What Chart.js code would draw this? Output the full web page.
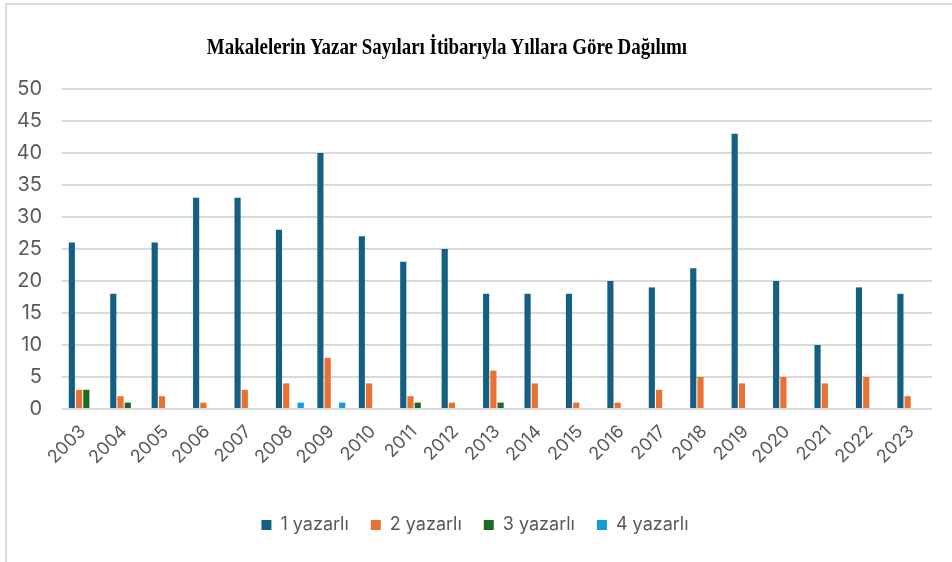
<!DOCTYPE html>
<html>
<head>
<meta charset="utf-8">
<script src="https://cdn.jsdelivr.net/npm/chart.js@4.4.1/dist/chart.umd.min.js"></script>
<style>
  html, body { margin: 0; padding: 0; background: #fff; }
  #wrap { position: relative; width: 952px; height: 562px; overflow: hidden; }
  #frame { position: absolute; left: 5px; top: 3px; right: -10px; bottom: -10px;
           border-left: 2px solid #dcdcdc; border-top: 2px solid #dcdcdc; }
  #title { position: absolute; left: 447px; top: 33px; white-space: nowrap;
           font-family: "Liberation Serif", "Times New Roman", serif; font-weight: bold;
           font-size: 24px; color: #000; transform: translateX(-50%) scaleX(0.79); }
  #chart { position: absolute; left: 0; top: 0; }
</style>
</head>
<body>
<div id="wrap">
  <div id="frame"></div>
  <canvas id="chart" width="952" height="562"></canvas>
  <div id="title">Makalelerin Yazar Sayıları İtibarıyla Yıllara Göre Dağılımı</div>
</div>
<script>
// Chart Data
const years = ['2003','2004','2005','2006','2007','2008','2009','2010','2011','2012','2013',
               '2014','2015','2016','2017','2018','2019','2020','2021','2022','2023'];
const yazar1 = [26, 18, 26, 33, 33, 28, 40, 27, 23, 25, 18, 18, 18, 20, 19, 22, 43, 20, 10, 19, 18];
const yazar2 = [3, 2, 2, 1, 3, 4, 8, 4, 2, 1, 6, 4, 1, 1, 3, 5, 4, 5, 4, 5, 2];
const yazar3 = [3, 1, 0, 0, 0, 0, 0, 0, 1, 0, 1, 0, 0, 0, 0, 0, 0, 0, 0, 0, 0];
const yazar4 = [0, 0, 0, 0, 0, 1, 1, 0, 0, 0, 0, 0, 0, 0, 0, 0, 0, 0, 0, 0, 0];
const yTicks = [0, 5, 10, 15, 20, 25, 30, 35, 40, 45, 50];

const tickColor = '#595959';
const fontFamily = 'Inter, Roboto, "Open Sans", sans-serif';

function makeSet( label, data, color ) {
	return {
		label: label,
		data: data,
		backgroundColor: color,
		borderWidth: 0,
		categoryPercentage: 0.7,
		barPercentage: 0.85
	};
}

let ctx = document.getElementById( 'chart' );
new Chart( ctx, {
	type: 'bar',
	data: {
		labels: years,
		datasets: [
			makeSet( '1 yazarlı', yazar1, '#156082' ),
			makeSet( '2 yazarlı', yazar2, '#E97132' ),
			makeSet( '3 yazarlı', yazar3, '#196B24' ),
			makeSet( '4 yazarlı', yazar4, '#0F9ED5' )
		]
	},
	options: {
		responsive: false,
		animation: false,
		layout: { padding: { left: 18, right: 20, top: 89, bottom: 18 } },
		plugins: {
			title: { display: false },
			tooltip: { enabled: false },
			legend: {
				position: 'bottom',
				labels: {
					boxWidth: 10, boxHeight: 10, padding: 22,
					color: tickColor,
					font: { family: fontFamily, size: 18 }
				}
			}
		},
		scales: {
			x: {
				grid: { display: false },
				border: { display: false },
				afterFit: function( axis ) {
					// keep the plot edges fixed, labels may run into the margin
					axis.paddingLeft = 0;
					axis.paddingRight = 0;
					axis.height = 85;
				},
				ticks: {
					color: tickColor, minRotation: 45, maxRotation: 45, padding: 4,
					font: { family: fontFamily, size: 18 }
				}
			},
			y: {
				min: 0, max: 50,
				afterBuildTicks: function( axis ) {
					axis.ticks = yTicks.map( v => ({ value: v }) );
				},
				afterFit: function( axis ) {
					axis.width = 44;
				},
				grid: { color: '#d9d9d9', lineWidth: 2, drawTicks: false },
				border: { display: false },
				ticks: {
					color: tickColor, padding: 20,
					font: { family: fontFamily, size: 20 }
				}
			}
		}
	}
});
</script>
</body>
</html>
